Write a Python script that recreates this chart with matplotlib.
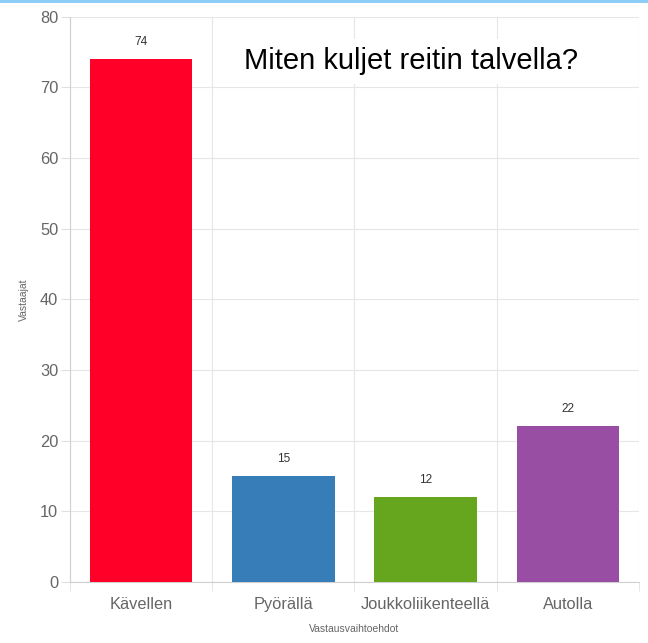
import matplotlib.pyplot as plt
import matplotlib.patches as patches
import numpy as np

# data
categories = ['Kävellen', 'Pyörällä', 'Joukkoliikenteellä', 'Autolla']
values = [74, 15, 12, 22]
colors = ['#FF0029', '#377EB8', '#66A61E', '#984EA3']
y_ticks = [0, 10, 20, 30, 40, 50, 60, 70, 80]

plt.rcParams['font.family'] = ['Liberation Sans', 'DejaVu Sans']

fig = plt.figure(figsize=(6.48, 6.43), dpi=100)
ax = fig.add_axes([0.108, 0.095, 0.878, 0.879])

x = np.arange(len(categories))
ax.bar(x, values, width=0.72, color=colors, zorder=3)

# value labels above bars
for xi, v in zip(x, values):
    ax.annotate(str(v), (xi, v), xytext=(0, 8), textcoords='offset points',
                ha='center', va='bottom', fontsize=8.5, color='#333333')

ax.set_xlim(-0.5, len(categories) - 0.5)
ax.set_ylim(0, 80)
ax.set_yticks(y_ticks)
ax.set_xticks(x)
ax.set_xticklabels(categories)
ax.set_xticks(np.arange(len(categories) + 1) - 0.5, minor=True)

ax.tick_params(axis='y', length=6.5, color='#e0e0e0', labelcolor='#666666', labelsize=11.8, pad=2)
ax.tick_params(axis='x', which='major', length=0, labelcolor='#666666', labelsize=11.8, pad=11)
ax.tick_params(axis='x', which='minor', length=6.5, color='#e0e0e0')

ax.grid(axis='y', which='major', color='#e6e6e6', linewidth=0.8, zorder=0)
ax.grid(axis='x', which='minor', color='#e6e6e6', linewidth=0.8, zorder=0)
ax.set_axisbelow(True)

for side in ['top', 'right']:
    ax.spines[side].set_visible(False)
ax.spines['left'].set_color('#d0d0d0')
ax.spines['bottom'].set_color('#d0d0d0')

ax.set_xlabel('Vastausvaihtoehdot', fontsize=7.5, color='#666666', labelpad=8.5)
ax.set_ylabel('Vastaajat', fontsize=7.5, color='#666666', labelpad=8)

# title in a white box overlapping the grid
fig.text(0.634, 0.905, 'Miten kuljet reitin talvella?', ha='center', va='center',
         fontsize=21, color='black', zorder=10,
         bbox=dict(facecolor='white', edgecolor='none', pad=6))

# thin light blue band at the very top
fig.patches.append(patches.Rectangle((0, 0.995), 1, 0.005, transform=fig.transFigure,
                                     facecolor='#8ECDF7', edgecolor='none'))

fig.savefig('out.png', dpi=100)
